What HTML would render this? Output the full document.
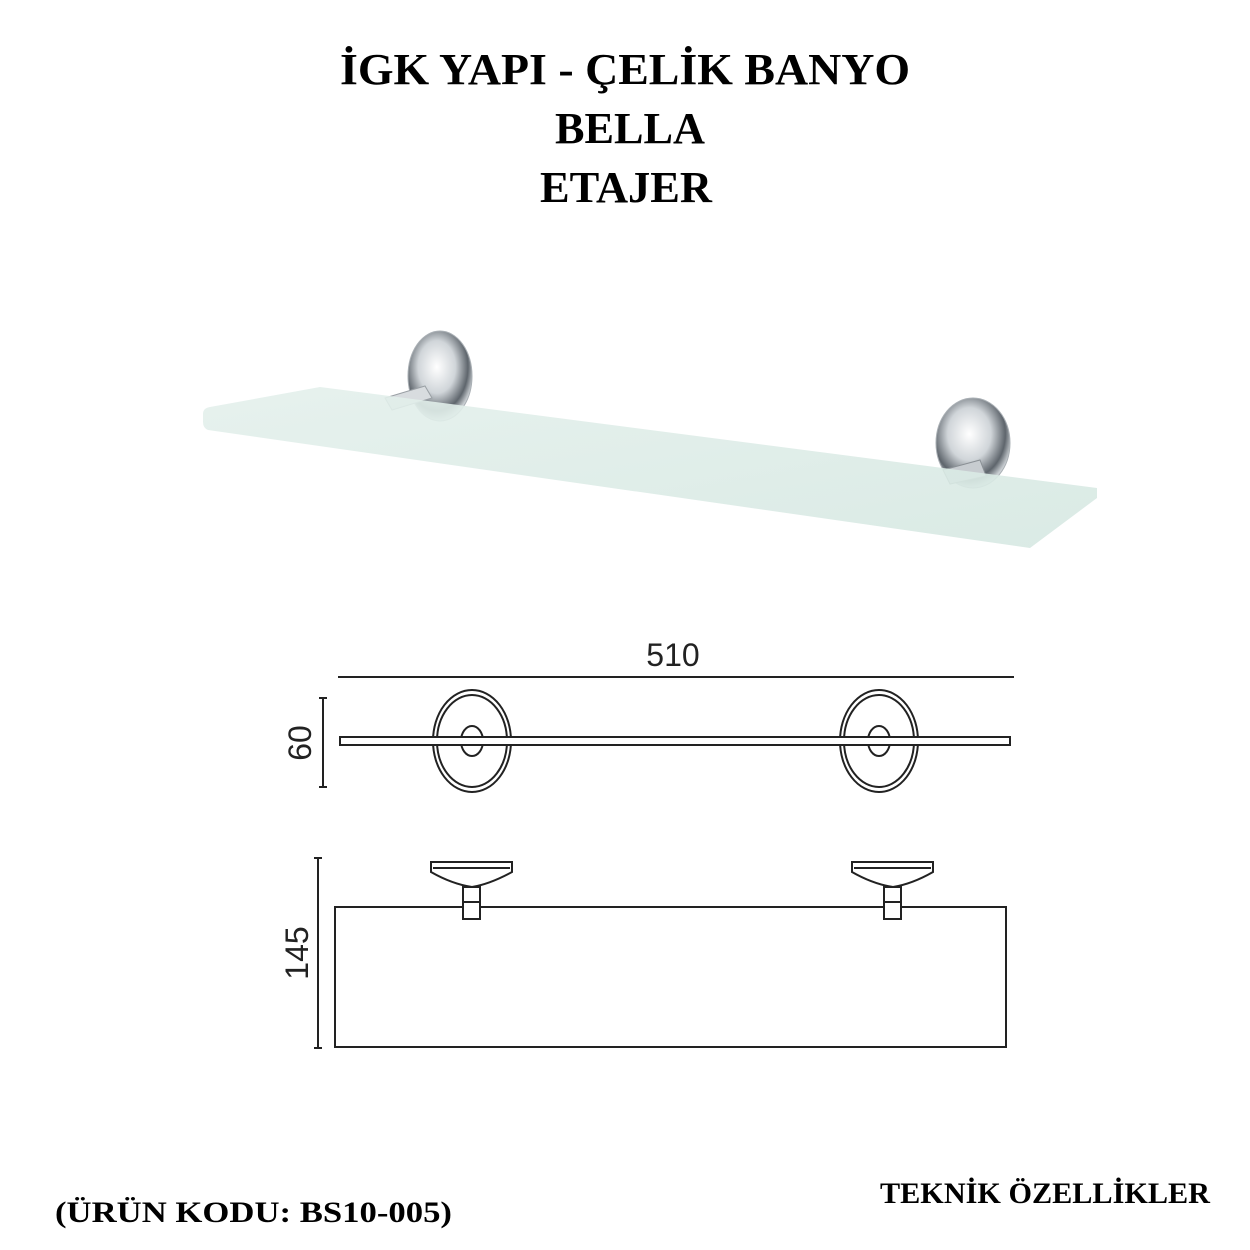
<!DOCTYPE html>
<html><head><meta charset="utf-8"><style>html,body{margin:0;padding:0;background:#fff}svg{display:block}</style></head>
<body>
<svg width="1250" height="1250" viewBox="0 0 1250 1250" xmlns="http://www.w3.org/2000/svg">
<defs>
<linearGradient id="glass" x1="0" y1="0" x2="1" y2="1">
<stop offset="0" stop-color="#e4f0ec"/><stop offset="1" stop-color="#d6e8e2"/>
</linearGradient>
<radialGradient id="chrome" cx="0.45" cy="0.4" r="0.65">
<stop offset="0" stop-color="#ffffff"/><stop offset="0.45" stop-color="#d0d5d9"/><stop offset="0.75" stop-color="#5e656c"/><stop offset="0.9" stop-color="#c8cdd1"/><stop offset="1" stop-color="#eef0f2"/>
</radialGradient>
</defs>
<g font-family="'Liberation Serif',serif" font-weight="bold" fill="#000" text-anchor="middle">
<text x="625" y="84" font-size="44" textLength="570" lengthAdjust="spacingAndGlyphs">İGK YAPI - ÇELİK BANYO</text>
<text x="630" y="143" font-size="44" textLength="150" lengthAdjust="spacingAndGlyphs">BELLA</text>
<text x="626" y="202" font-size="44" textLength="172" lengthAdjust="spacingAndGlyphs">ETAJER</text>
<text x="880" y="1203" font-size="30" text-anchor="start" textLength="330" lengthAdjust="spacingAndGlyphs">TEKNİK ÖZELLİKLER</text>
<text x="55" y="1222" font-size="30" text-anchor="start" textLength="397" lengthAdjust="spacingAndGlyphs">(ÜRÜN KODU: BS10-005)</text>
</g>
<!-- photo -->
<ellipse cx="440" cy="376" rx="32" ry="45" fill="url(#chrome)" stroke="#aab0b5"/>
<path d="M385 398 L425 386 L432 398 L392 410 Z" fill="#d8dcdf" stroke="#9aa0a5"/>
<ellipse cx="973" cy="443" rx="37" ry="45" fill="url(#chrome)" stroke="#aab0b5"/>
<path d="M943 470 L980 460 L986 476 L950 484 Z" fill="#c7ccd0" stroke="#8a9095"/>
<path d="M203 414 Q203 408 210 407 L320 387 L1097 488 L1097 498 L1030 548 L208 430 Q203 428 203 422 Z" fill="url(#glass)" opacity="0.9"/>
<!-- top view -->
<g stroke="#222" fill="none" stroke-width="2">
<line x1="338" y1="677" x2="1014" y2="677"/>
<line x1="323" y1="698" x2="323" y2="787"/>
<line x1="319" y1="698" x2="327" y2="698"/><line x1="319" y1="787" x2="327" y2="787"/>
<ellipse cx="472" cy="741" rx="39" ry="51"/>
<ellipse cx="472" cy="741" rx="35" ry="46"/>
<ellipse cx="472" cy="741" rx="11" ry="15"/>
<ellipse cx="879" cy="741" rx="39" ry="51"/>
<ellipse cx="879" cy="741" rx="35" ry="46"/>
<ellipse cx="879" cy="741" rx="11" ry="15"/>
<rect x="340" y="737" width="670" height="8" fill="#fff"/>
<!-- front view -->
<line x1="318" y1="858" x2="318" y2="1048"/>
<line x1="314" y1="858" x2="322" y2="858"/><line x1="314" y1="1048" x2="322" y2="1048"/>
<rect x="335" y="907" width="671" height="140"/>
<path d="M431 862 H512 V872 Q490 884 472 887 Q452 884 431 872 Z"/>
<line x1="433" y1="868" x2="510" y2="868"/>
<rect x="463" y="887" width="17" height="32" fill="#fff"/>
<line x1="463" y1="902" x2="480" y2="902"/>
<path d="M852 862 H933 V872 Q912 884 893 887 Q873 884 852 872 Z"/>
<line x1="854" y1="868" x2="931" y2="868"/>
<rect x="884" y="887" width="17" height="32" fill="#fff"/>
<line x1="884" y1="902" x2="901" y2="902"/>
</g>
<g font-family="'Liberation Sans',sans-serif" font-size="32" fill="#222" text-anchor="middle">
<text x="673" y="666">510</text>
<text transform="translate(311,743) rotate(-90)">60</text>
<text transform="translate(308,953) rotate(-90)">145</text>
</g>
</svg>
</body></html>
